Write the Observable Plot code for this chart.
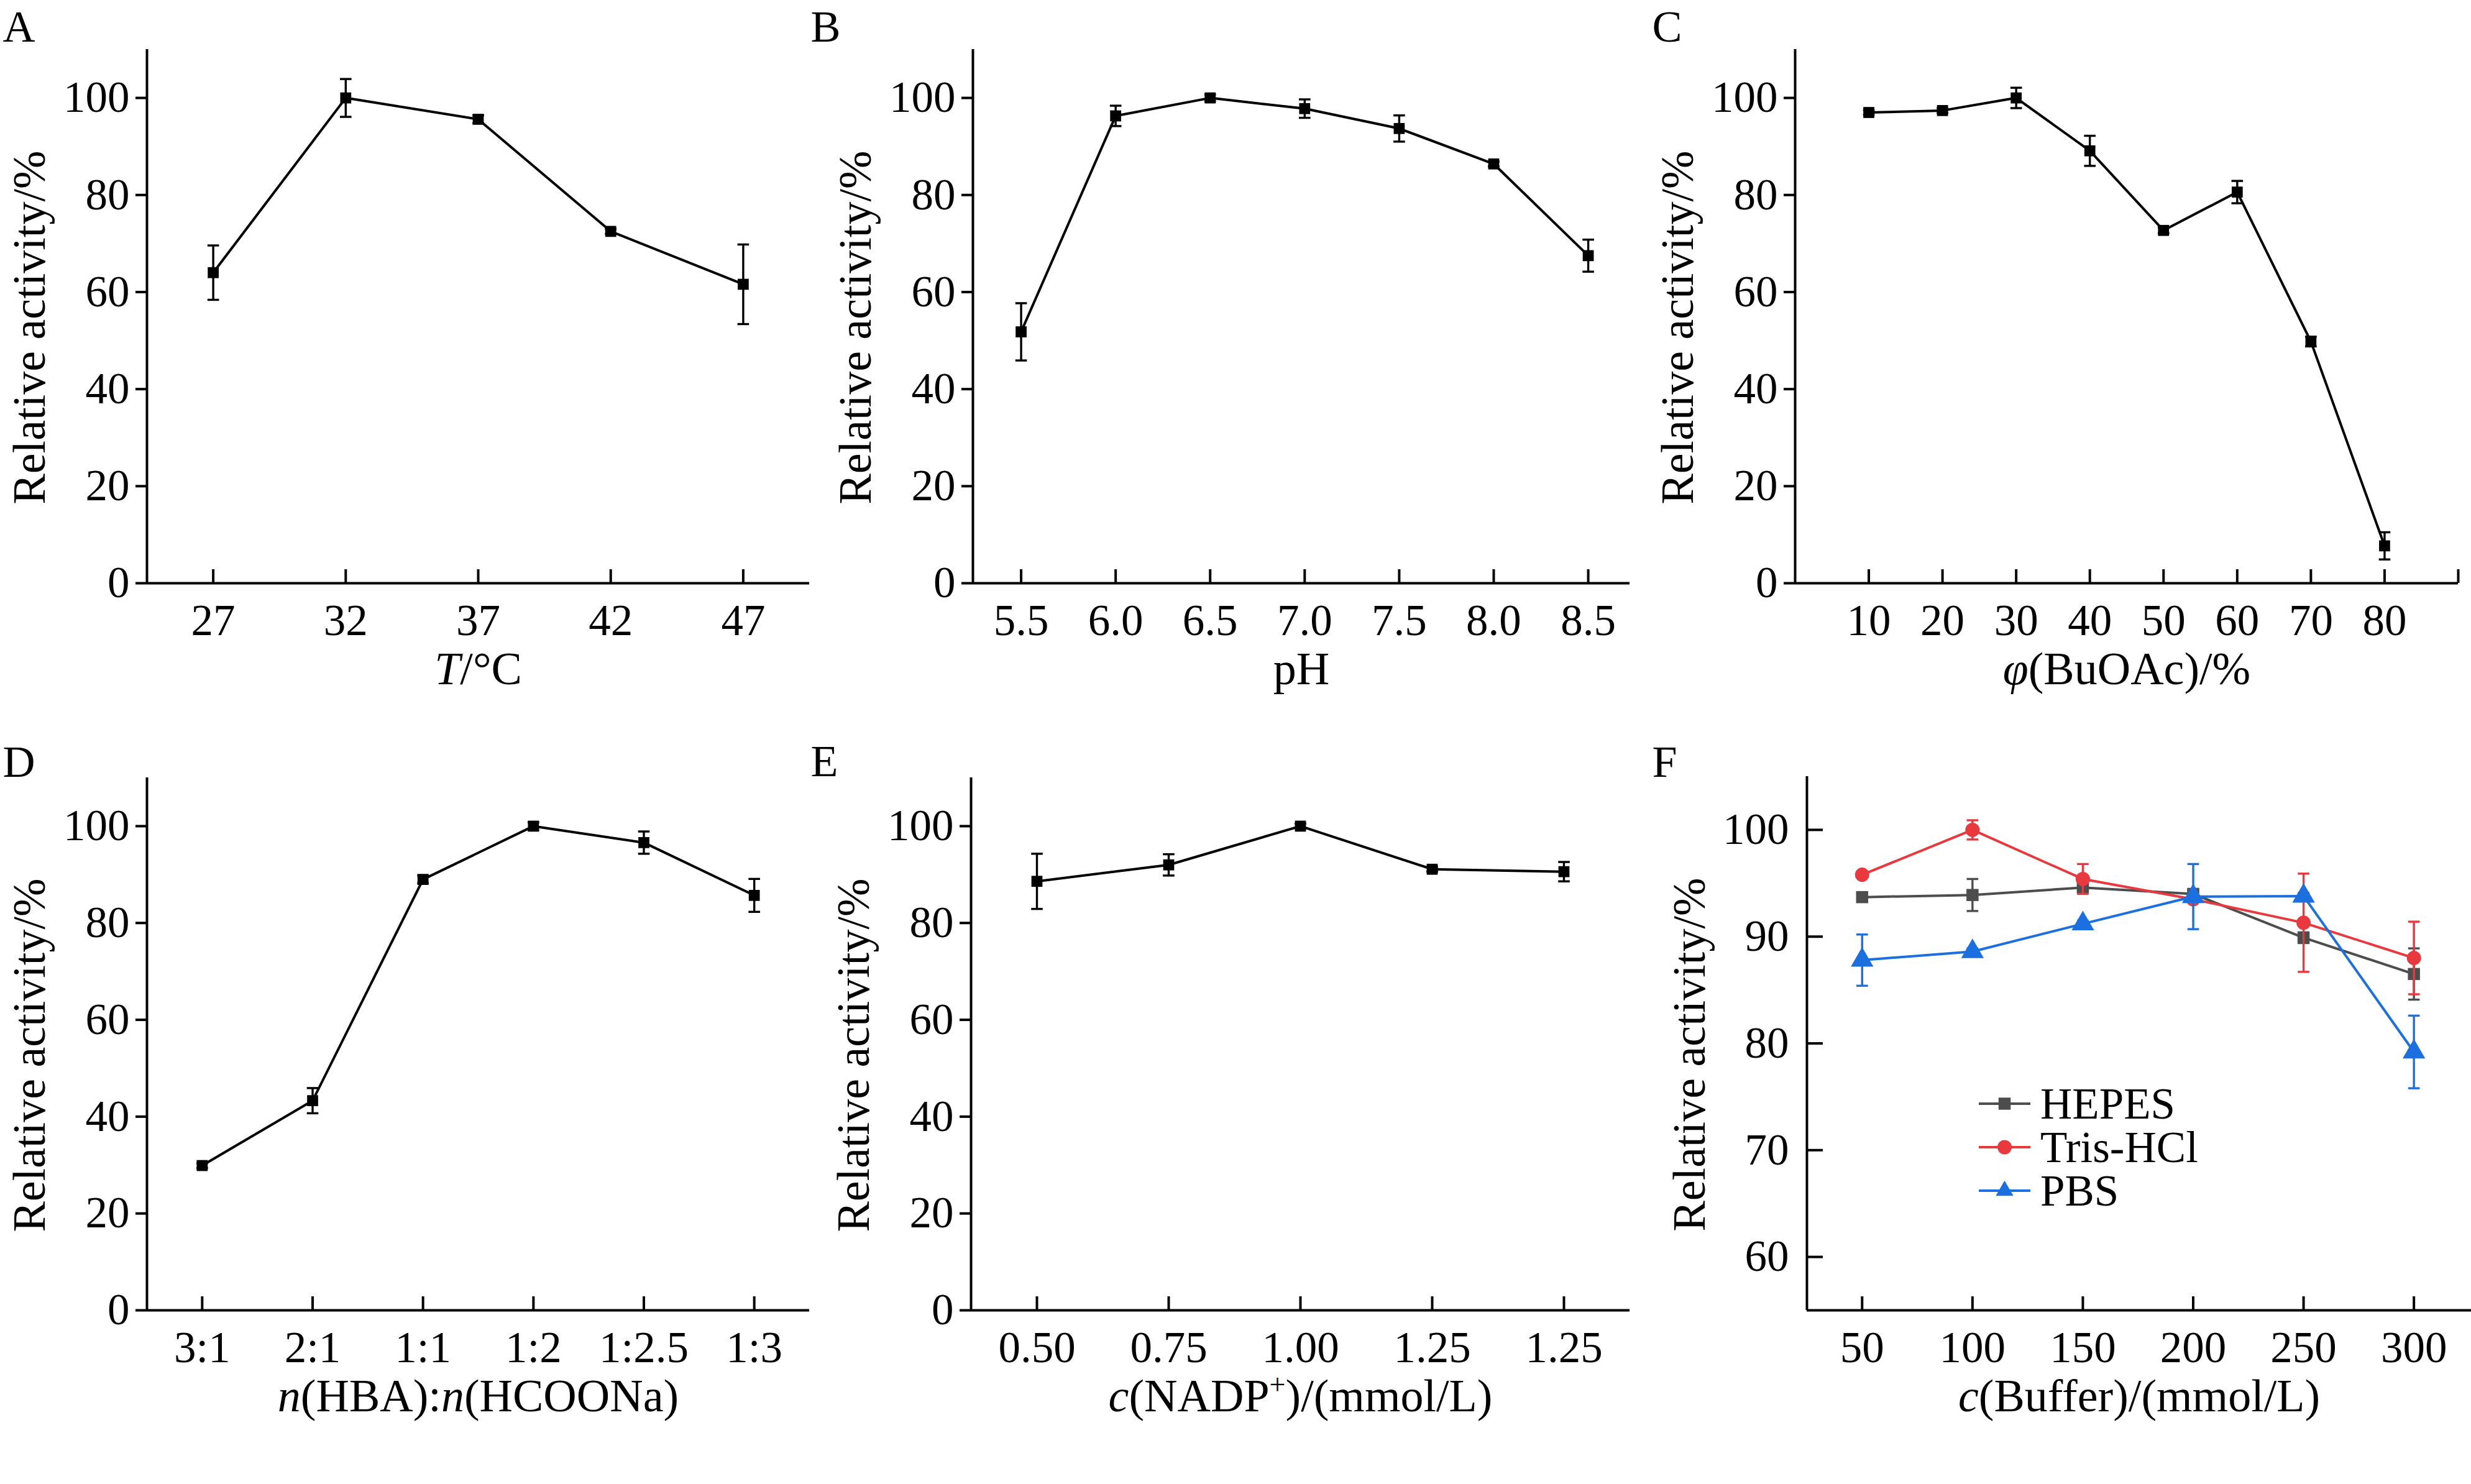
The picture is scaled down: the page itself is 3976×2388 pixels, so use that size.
<!DOCTYPE html>
<html><head><meta charset="utf-8">
<script src="https://cdn.jsdelivr.net/npm/d3@7"></script>
<script src="https://cdn.jsdelivr.net/npm/@observablehq/plot@0.6"></script>
<style>
body{margin:0;background:#fff;}
#root{position:relative;width:3976px;height:2388px;background:#fff;font-family:"Liberation Serif","Times New Roman",serif;overflow:hidden;}
.panel{position:absolute;}
.panel svg{max-width:none !important;overflow:visible;background:transparent;font-family:"Liberation Serif","Times New Roman",serif !important;}
.panel svg text{font-family:"Liberation Serif","Times New Roman",serif;}
.legend{position:absolute;font-family:"Liberation Serif","Times New Roman",serif;font-size:71px;color:#000;}
.legend .row{display:flex;align-items:center;height:70px;}
.legend .row span{margin-left:16px;line-height:70px;}
</style></head><body><div id="root"></div><script>
// ---- Data ----
const aTemp = [27, 32, 37, 42, 47];
const aVal = [64.0, 100, 95.6, 72.5, 61.6];
const aErr = [5.6, 3.9, 0.8, 0.5, 8.2];

const bPH = [5.5, 6.0, 6.5, 7.0, 7.5, 8.0, 8.5];
const bVal = [51.8, 96.3, 100, 97.8, 93.7, 86.4, 67.5];
const bErr = [5.9, 2.1, 0.7, 1.9, 2.7, 0.5, 3.3];

const cPhi = [10, 20, 30, 40, 50, 60, 70, 80];
const cVal = [97.0, 97.4, 100, 89.1, 72.7, 80.6, 49.8, 7.7];
const cErr = [0.5, 0.5, 2.1, 3.1, 0.6, 2.3, 1.0, 2.8];

const dRatio = ["3:1", "2:1", "1:1", "1:2", "1:2.5", "1:3"];
const dVal = [29.9, 43.3, 89.0, 100, 96.6, 85.7];
const dErr = [0.5, 2.6, 0.8, 0.8, 2.3, 3.4];

const eConc = ["0.50", "0.75", "1.00", "1.25", "1.25"];
const eVal = [88.6, 92.0, 100, 91.1, 90.6];
const eErr = [5.7, 2.2, 0.5, 0.5, 2.0];

const fConc = [50, 100, 150, 200, 250, 300];
const fSeries = ["HEPES", "Tris-HCl", "PBS"];
const hepesVal = [93.7, 93.9, 94.6, 94.0, 89.9, 86.5];
const hepesErr = [0.3, 1.5, 0.3, 0.3, 0.5, 2.4];
const trisVal = [95.8, 100, 95.4, 93.5, 91.3, 88.0];
const trisErr = [0.3, 0.9, 1.4, 0.3, 4.6, 3.4];
const pbsVal = [87.8, 88.6, 91.2, 93.75, 93.8, 79.2];
const pbsErr = [2.4, 0.3, 0.3, 3.05, 0.3, 3.4];

const yTicks110 = [0, 20, 40, 60, 80, 100];
const yTicksF = [60, 70, 80, 90, 100];
const yLabel = "Relative activity/%";

// ---- Style ----
const FONT = '"Liberation Serif", "Times New Roman", serif';
const BLACK = "#000";
const GRAY = "#4d4d4d", RED = "#e8393e", BLUE = "#1c6fde";
const capSym = {draw(ctx, size) { const w = Math.sqrt(size) / 2; ctx.moveTo(-w, 0); ctx.lineTo(w, 0); }};

function rows(xs, ys, es) { return xs.map((x, i) => ({x, y: ys[i], e: es[i]})); }

function seriesMarks(data, color, symbol, r) {
  return [
    Plot.line(data, {x: "x", y: "y", stroke: color, strokeWidth: 4}),
    Plot.ruleX(data, {x: "x", y1: d => d.y - d.e, y2: d => d.y + d.e, stroke: color, strokeWidth: 3.4}),
    Plot.dot(data, {x: "x", y: d => d.y - d.e, symbol: capSym, r: 10.5, fill: "none", stroke: color, strokeWidth: 3.4}),
    Plot.dot(data, {x: "x", y: d => d.y + d.e, symbol: capSym, r: 10.5, fill: "none", stroke: color, strokeWidth: 3.4}),
    Plot.dot(data, {x: "x", y: "y", symbol, r, fill: color, stroke: "none"})
  ];
}

function styleLabel(svg, plain, parts) {
  d3.select(svg).selectAll("text").filter(function() { return this.textContent === plain; }).each(function() {
    const t = d3.select(this);
    t.text(null);
    parts.forEach(p => {
      const ts = t.append("tspan").text(p.t);
      if (p.i) ts.attr("font-style", "italic");
      if (p.sup) ts.attr("font-size", "46px").attr("dy", "-28px");
      if (p.down) ts.attr("dy", "28px");
    });
  });
}

function panel(cfg) {
  const {left, top, width, height, mL, mR, mT, mB, letter, letterX, letterBase,
         xDomain, xTicks, xFmt, yDomain, yTicks, yInward, xLabel, xParts, series} = cfg;
  const marks = [
    Plot.ruleY([yDomain[0]], {stroke: BLACK, strokeWidth: 4}),
    Plot.ruleX([xDomain[0]], {stroke: BLACK, strokeWidth: 4}),
    Plot.axisX({ticks: xTicks, tickFormat: xFmt, tickSize: -22, tickPadding: 55, fontSize: 71, fontFamily: FONT, strokeWidth: 4, label: null}),
    yInward
      ? Plot.axisY({ticks: yTicks, tickSize: -26, tickPadding: 55, fontSize: 71, fontFamily: FONT, strokeWidth: 4, label: null})
      : Plot.axisY({ticks: yTicks, tickSize: 18, tickPadding: 10, fontSize: 71, fontFamily: FONT, strokeWidth: 4, label: null}),
    Plot.text([yLabel], {frameAnchor: "left", rotate: -90, dx: -188, dy: 18, fontSize: 74, fontFamily: FONT, lineAnchor: "middle", textAnchor: "middle", fill: BLACK}),
    Plot.text([xLabel], {frameAnchor: "bottom", dy: 162, fontSize: 74, fontFamily: FONT, lineAnchor: "bottom", textAnchor: "middle", fill: BLACK}),
    Plot.text([letter], {frameAnchor: "top-left", dx: letterX - mL, dy: letterBase - mT, fontSize: 72, fontFamily: FONT, lineAnchor: "bottom", textAnchor: "start", fill: BLACK}),
    ...series
  ];
  const svg = Plot.plot({
    width, height, marginLeft: mL, marginRight: mR, marginTop: mT, marginBottom: mB,
    x: {type: "linear", domain: xDomain},
    y: {type: "linear", domain: yDomain},
    style: {fontFamily: FONT, fontSize: "71px", color: BLACK, background: "transparent", overflow: "visible", maxWidth: "none"},
    marks
  });
  styleLabel(svg, xLabel, xParts);
  const div = document.createElement("div");
  div.className = "panel";
  div.style.left = left + "px"; div.style.top = top + "px";
  div.style.width = width + "px"; div.style.height = height + "px";
  div.appendChild(svg);
  document.getElementById("root").appendChild(div);
}

const idx = arr => arr.map((_, i) => i);

// A
panel({left: 0, top: 0, width: 1304, height: 1194, mL: 236, mR: 2, mT: 79, mB: 256,
  letter: "A", letterX: 4, letterBase: 66,
  xDomain: [24.5, 49.5], xTicks: aTemp, xFmt: d => String(d),
  yDomain: [0, 110], yTicks: yTicks110, yInward: false,
  xLabel: "T/°C", xParts: [{t: "T", i: true}, {t: "/°C"}],
  series: seriesMarks(rows(aTemp, aVal, aErr), BLACK, "square", 10)});

// B
panel({left: 1300, top: 0, width: 1350, height: 1194, mL: 265, mR: 28, mT: 79, mB: 256,
  letter: "B", letterX: 4, letterBase: 66,
  xDomain: [5.245, 8.72], xTicks: bPH, xFmt: d => d.toFixed(1),
  yDomain: [0, 110], yTicks: yTicks110, yInward: false,
  xLabel: "pH", xParts: [{t: "pH"}],
  series: seriesMarks(rows(bPH, bVal, bErr), BLACK, "square", 10)});

// C
panel({left: 2650, top: 0, width: 1326, height: 1194, mL: 238, mR: 21, mT: 79, mB: 256,
  letter: "C", letterX: 8, letterBase: 66,
  xDomain: [0, 90], xTicks: [10, 20, 30, 40, 50, 60, 70, 80, 90], xFmt: d => d === 90 ? "" : String(d),
  yDomain: [0, 110], yTicks: yTicks110, yInward: false,
  xLabel: "φ(BuOAc)/%", xParts: [{t: "φ", i: true}, {t: "(BuOAc)/%"}],
  series: seriesMarks(rows(cPhi, cVal, cErr), BLACK, "square", 10)});

// D
panel({left: 0, top: 1194, width: 1304, height: 1194, mL: 236, mR: 2, mT: 57, mB: 280,
  letter: "D", letterX: 4, letterBase: 55,
  xDomain: [-0.5, dRatio.length - 0.5], xTicks: idx(dRatio), xFmt: i => dRatio[i],
  yDomain: [0, 110], yTicks: yTicks110, yInward: false,
  xLabel: "n(HBA):n(HCOONa)", xParts: [{t: "n", i: true}, {t: "(HBA):"}, {t: "n", i: true}, {t: "(HCOONa)"}],
  series: seriesMarks(rows(idx(dRatio), dVal, dErr), BLACK, "square", 10)});

// E
panel({left: 1300, top: 1194, width: 1350, height: 1194, mL: 262, mR: 28, mT: 57, mB: 280,
  letter: "E", letterX: 4, letterBase: 54,
  xDomain: [-0.5, eConc.length - 0.5], xTicks: idx(eConc), xFmt: i => eConc[i],
  yDomain: [0, 110], yTicks: yTicks110, yInward: false,
  xLabel: "c(NADP+)/(mmol/L)", xParts: [{t: "c", i: true}, {t: "(NADP"}, {t: "+", sup: true}, {t: ")/(mmol/L)", down: true}],
  series: seriesMarks(rows(idx(eConc), eVal, eErr), BLACK, "square", 10)});

// F
panel({left: 2650, top: 1194, width: 1326, height: 1194, mL: 257, mR: 0, mT: 55, mB: 280,
  letter: "F", letterX: 8, letterBase: 55,
  xDomain: [25, 326], xTicks: fConc, xFmt: d => String(d),
  yDomain: [55, 105], yTicks: yTicksF, yInward: true,
  xLabel: "c(Buffer)/(mmol/L)", xParts: [{t: "c", i: true}, {t: "(Buffer)/(mmol/L)"}],
  series: [
    ...seriesMarks(rows(fConc, hepesVal, hepesErr), GRAY, "square", 11),
    ...seriesMarks(rows(fConc, trisVal, trisErr), RED, "circle", 11.5),
    ...seriesMarks(rows(fConc, pbsVal, pbsErr), BLUE, "triangle", 13.5)
  ]});

// Legend for F
const legendItems = [
  {name: fSeries[0], color: GRAY, shape: "square"},
  {name: fSeries[1], color: RED, shape: "circle"},
  {name: fSeries[2], color: BLUE, shape: "triangle"}
];
const leg = d3.select("#root").append("div").attr("class", "legend").style("left", "3184px").style("top", "1741px");
legendItems.forEach(it => {
  const row = leg.append("div").attr("class", "row");
  const s = row.append("svg").attr("width", 83).attr("height", 70);
  s.append("line").attr("x1", 0).attr("x2", 83).attr("y1", 35).attr("y2", 35).attr("stroke", it.color).attr("stroke-width", 4);
  const sym = it.shape === "square" ? d3.symbolSquare : it.shape === "circle" ? d3.symbolCircle : d3.symbolTriangle2;
  const r = it.shape === "square" ? 11 : it.shape === "circle" ? 11.5 : 13.5;
  s.append("path").attr("transform", "translate(41.5,35)").attr("d", d3.symbol(sym, Math.PI * r * r)()).attr("fill", it.color);
  row.append("span").text(it.name);
});
</script></body></html>
